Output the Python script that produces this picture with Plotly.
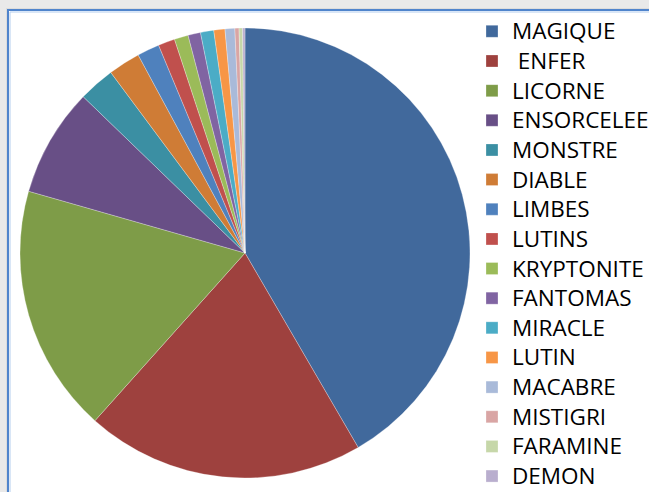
import plotly.graph_objects as go

# Share of each word (percent), in drawing order clockwise from 12 o'clock
labels = ["MAGIQUE", "\u00a0ENFER", "LICORNE", "ENSORCELEE", "MONSTRE", "DIABLE",
          "LIMBES", "LUTINS", "KRYPTONITE", "FANTOMAS", "MIRACLE", "LUTIN",
          "MACABRE", "MISTIGRI", "FARAMINE", "DEMON"]
values = [41.6, 20.0, 17.8, 7.8, 2.6, 2.3, 1.6, 1.2, 1.0, 0.9, 0.95, 0.8,
          0.7, 0.3, 0.25, 0.17]
colors = ["#41699C", "#9E413E", "#7E9C48", "#684F86", "#3B8FA3", "#CF7C36",
          "#4F81BD", "#C0504D", "#9BBB59", "#8064A2", "#4BACC6", "#F79646",
          "#A9BAD9", "#D9A5A4", "#C6D7A9", "#B9AECE"]

W, H = 649, 492
cx, cy, r = 245, 253, 225  # pie centre and radius in pixels

# legend entries drawn a little larger than the row pitch implied by the legend font
legend_text = [f'<span style="font-size:22.5px">{s}</span>' for s in labels]

fig = go.Figure(go.Pie(
    labels=legend_text,
    values=values,
    sort=False,
    direction="clockwise",
    rotation=0,
    textinfo="none",
    hovertemplate="%{value}<extra></extra>",
    marker=dict(colors=colors, line=dict(color="rgba(255,255,255,0.45)", width=0.6)),
    domain=dict(x=[(cx - r) / W, (cx + r) / W],
                y=[(H - cy - r) / H, (H - cy + r) / H]),
))

fig.update_layout(
    width=W, height=H,
    margin=dict(l=0, r=0, t=0, b=0, autoexpand=False),
    paper_bgcolor="#e9e9e9",
    plot_bgcolor="white",
    showlegend=True,
    legend=dict(
        x=472 / W, xanchor="left",
        y=1 - 11.5 / H, yanchor="top",
        font=dict(family="Open Sans", size=20.5, color="black"),
        bgcolor="rgba(0,0,0,0)",
        itemclick=False,
    ),
    shapes=[
        # soft shadow just outside the chart frame
        dict(type="rect", xref="paper", yref="paper",
             x0=6 / W, x1=1.1, y0=-0.1, y1=1 - 8 / H,
             fillcolor="#dcdcdc", line=dict(width=0), layer="below"),
        # white chart area with blue frame
        dict(type="rect", xref="paper", yref="paper",
             x0=8 / W, x1=1.1, y0=-0.1, y1=1 - 10 / H,
             fillcolor="white", line=dict(color="#4F84CC", width=2), layer="below"),
        dict(type="rect", xref="paper", yref="paper",
             x0=10 / W, x1=1.1, y0=-0.1, y1=1 - 12 / H,
             fillcolor="rgba(0,0,0,0)", line=dict(color="#B3CDEE", width=1), layer="below"),
    ],
)

fig.write_html("out.html")
